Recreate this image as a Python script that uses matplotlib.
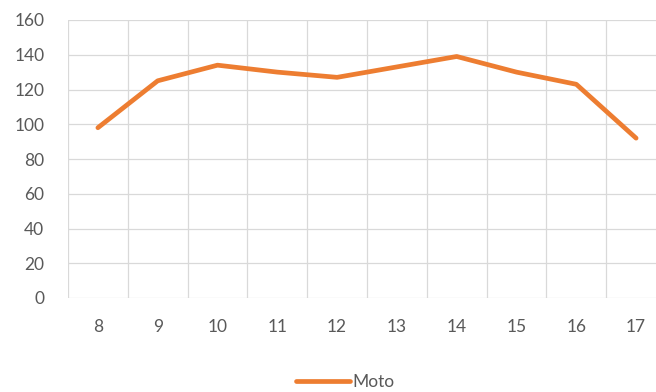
import matplotlib.pyplot as plt

hours = [8, 9, 10, 11, 12, 13, 14, 15, 16, 17]
moto = [98, 125, 134, 130, 127, 133, 139, 130, 123, 92]
yticks = [0, 20, 40, 60, 80, 100, 120, 140, 160]

plt.rcParams['font.family'] = ['Lato', 'DejaVu Sans']

fig = plt.figure(figsize=(6.56, 3.92), dpi=100)
# plot area runs past the right edge, as in the original sheet export
ax = fig.add_axes([68 / 656, 94 / 392, 598 / 656, 278 / 392])

x = list(range(len(hours)))
ax.plot(x, moto, color='#ED7D31', lw=3.4, solid_capstyle='round',
        solid_joinstyle='round', label='Moto', zorder=3)

ax.set_xlim(-0.5, len(hours) - 0.5)
ax.set_ylim(0, 160)
ax.set_yticks(yticks)
ax.set_xticks(x)
ax.set_xticklabels([str(h) for h in hours])

# category gridlines sit between the labels
for i in range(len(hours) + 1):
    ax.axvline(i - 0.5, color='#D9D9D9', lw=0.9, zorder=1)
for y in yticks:
    ax.axhline(y, color='#D9D9D9', lw=0.9, zorder=1)

for s in ax.spines.values():
    s.set_visible(False)
ax.tick_params(axis='both', length=0, labelsize=12.5, labelcolor='#595959')
ax.tick_params(axis='y', pad=17)
ax.tick_params(axis='x', pad=15)

fig.legend(loc='center', bbox_to_anchor=(345 / 656, 1 - 382 / 392),
           frameon=False, fontsize=12.5, handlelength=3.1, handletextpad=0.15,
           labelcolor='#595959')

fig.savefig('out.png', dpi=100)
